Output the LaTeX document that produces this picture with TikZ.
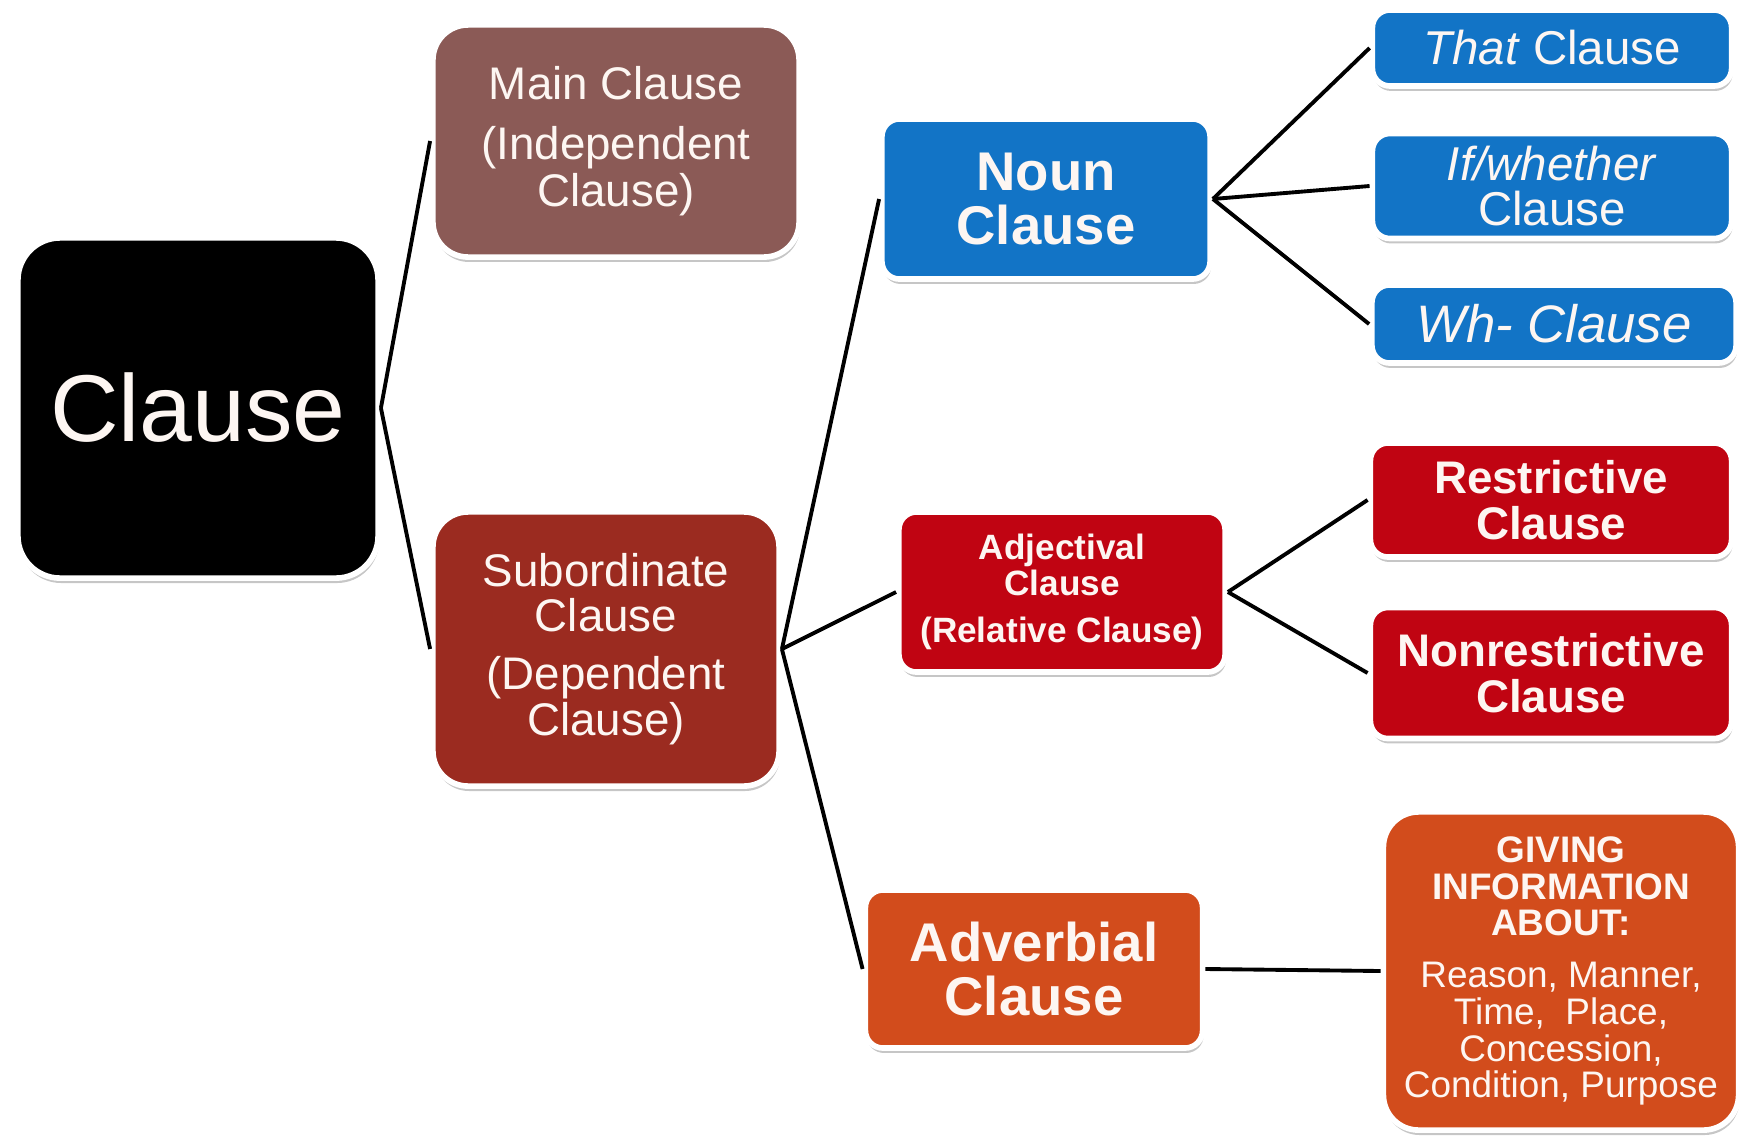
\documentclass[tikz,border=0pt]{standalone}
\usepackage{fontspec}
\setmainfont{Liberation Sans}
\usetikzlibrary{positioning,shadows}
\definecolor{mainbrown}{RGB}{139,90,86}
\definecolor{subred}{RGB}{155,43,32}
\definecolor{nounblue}{RGB}{18,116,198}
\definecolor{adjred}{RGB}{192,4,18}
\definecolor{advorange}{RGB}{210,76,28}
\definecolor{boxtext}{RGB}{253,246,242}
\tikzstyle{box}=[draw=white, line width=1.6pt, rounded corners=5pt, align=center,
		text=boxtext, inner sep=2pt,
		drop shadow={shadow xshift=0.3pt, shadow yshift=-1.4pt, opacity=0.45}]
\tikzstyle{link}=[line width=1.1pt, black]

\begin{document}
\begin{tikzpicture}[x=0.01cm, y=-0.01cm]
            \useasboundingbox (0,0) rectangle (1742,1136);
            \node[box, fill=black, rounded corners=12pt, minimum width=3.6cm, minimum height=3.4cm,
                font=\fontsize{27}{30}\selectfont] (clause) at (198,408) {Clause};
            \node[box, fill=mainbrown, rounded corners=10pt, minimum width=3.66cm, minimum height=2.32cm,
                font=\fontsize{13}{13.2}\selectfont] (main) at (616,141) {Main Clause\\[4pt] (Independent\\ Clause)};
            \node[box, fill=subred, rounded corners=10pt, minimum width=3.46cm, minimum height=2.74cm,
                font=\fontsize{13}{13}\selectfont] (sub) at (606,649) {Subordinate\\ Clause\\[3.5pt] (Dependent\\ Clause)};
            \node[box, fill=nounblue, minimum width=3.28cm, minimum height=1.6cm,
                font=\fontsize{15.5}{15.5}\selectfont\bfseries] (noun) at (1046,199) {Noun\\ Clause};
            \node[box, fill=adjred, minimum width=3.26cm, minimum height=1.6cm,
                font=\fontsize{10}{10.2}\selectfont\bfseries] (adj) at (1062,592) {Adjectival\\ Clause\\[3pt] (Relative Clause)};
            \node[box, fill=advorange, minimum width=3.37cm, minimum height=1.58cm,
                font=\fontsize{15.5}{15.5}\selectfont\bfseries] (adv) at (1034,969) {Adverbial\\ Clause};
            \node[box, fill=nounblue, minimum width=3.59cm, minimum height=0.76cm,
                font=\fontsize{13.5}{13}\selectfont] (that) at (1552,48) {\textit{That} Clause};
            \node[box, fill=nounblue, minimum width=3.59cm, minimum height=1.05cm,
                font=\fontsize{13.5}{13}\selectfont] (ifw) at (1552,186) {\textit{If/whether}\\ Clause};
            \node[box, fill=nounblue, minimum width=3.64cm, minimum height=0.78cm,
                font=\fontsize{15}{14}\selectfont\itshape] (wh) at (1554,324) {Wh- Clause};
            \node[box, fill=adjred, minimum width=3.61cm, minimum height=1.14cm,
                font=\fontsize{13}{13}\selectfont\bfseries] (restr) at (1551,500) {Restrictive\\ Clause};
            \node[box, fill=adjred, minimum width=3.61cm, minimum height=1.31cm,
                font=\fontsize{13}{13.2}\selectfont\bfseries] (nonr) at (1551,673) {Nonrestrictive\\ Clause};
            \node[box, fill=advorange, rounded corners=10pt, minimum width=3.55cm, minimum height=3.18cm,
                font=\fontsize{10.5}{10.4}\selectfont] (giving) at (1561,971)
                {\textbf{GIVING}\\ \textbf{INFORMATION}\\ \textbf{ABOUT:}\\[4.5pt] Reason, Manner,\\ Time,~ Place,\\ Concession,\\ Condition, Purpose};
            \draw[link] (clause.east) -- (main.west);
            \draw[link] (clause.east) -- (sub.west);
            \draw[link] (sub.east) -- (noun.west);
            \draw[link] (sub.east) -- (adj.west);
            \draw[link] (sub.east) -- (adv.west);
            \draw[link] (noun.east) -- (that.west);
            \draw[link] (noun.east) -- (ifw.west);
            \draw[link] (noun.east) -- (wh.west);
            \draw[link] (adj.east) -- (restr.west);
            \draw[link] (adj.east) -- (nonr.west);
            \draw[link] (adv.east) -- (giving.west);
\end{tikzpicture}
\end{document}
